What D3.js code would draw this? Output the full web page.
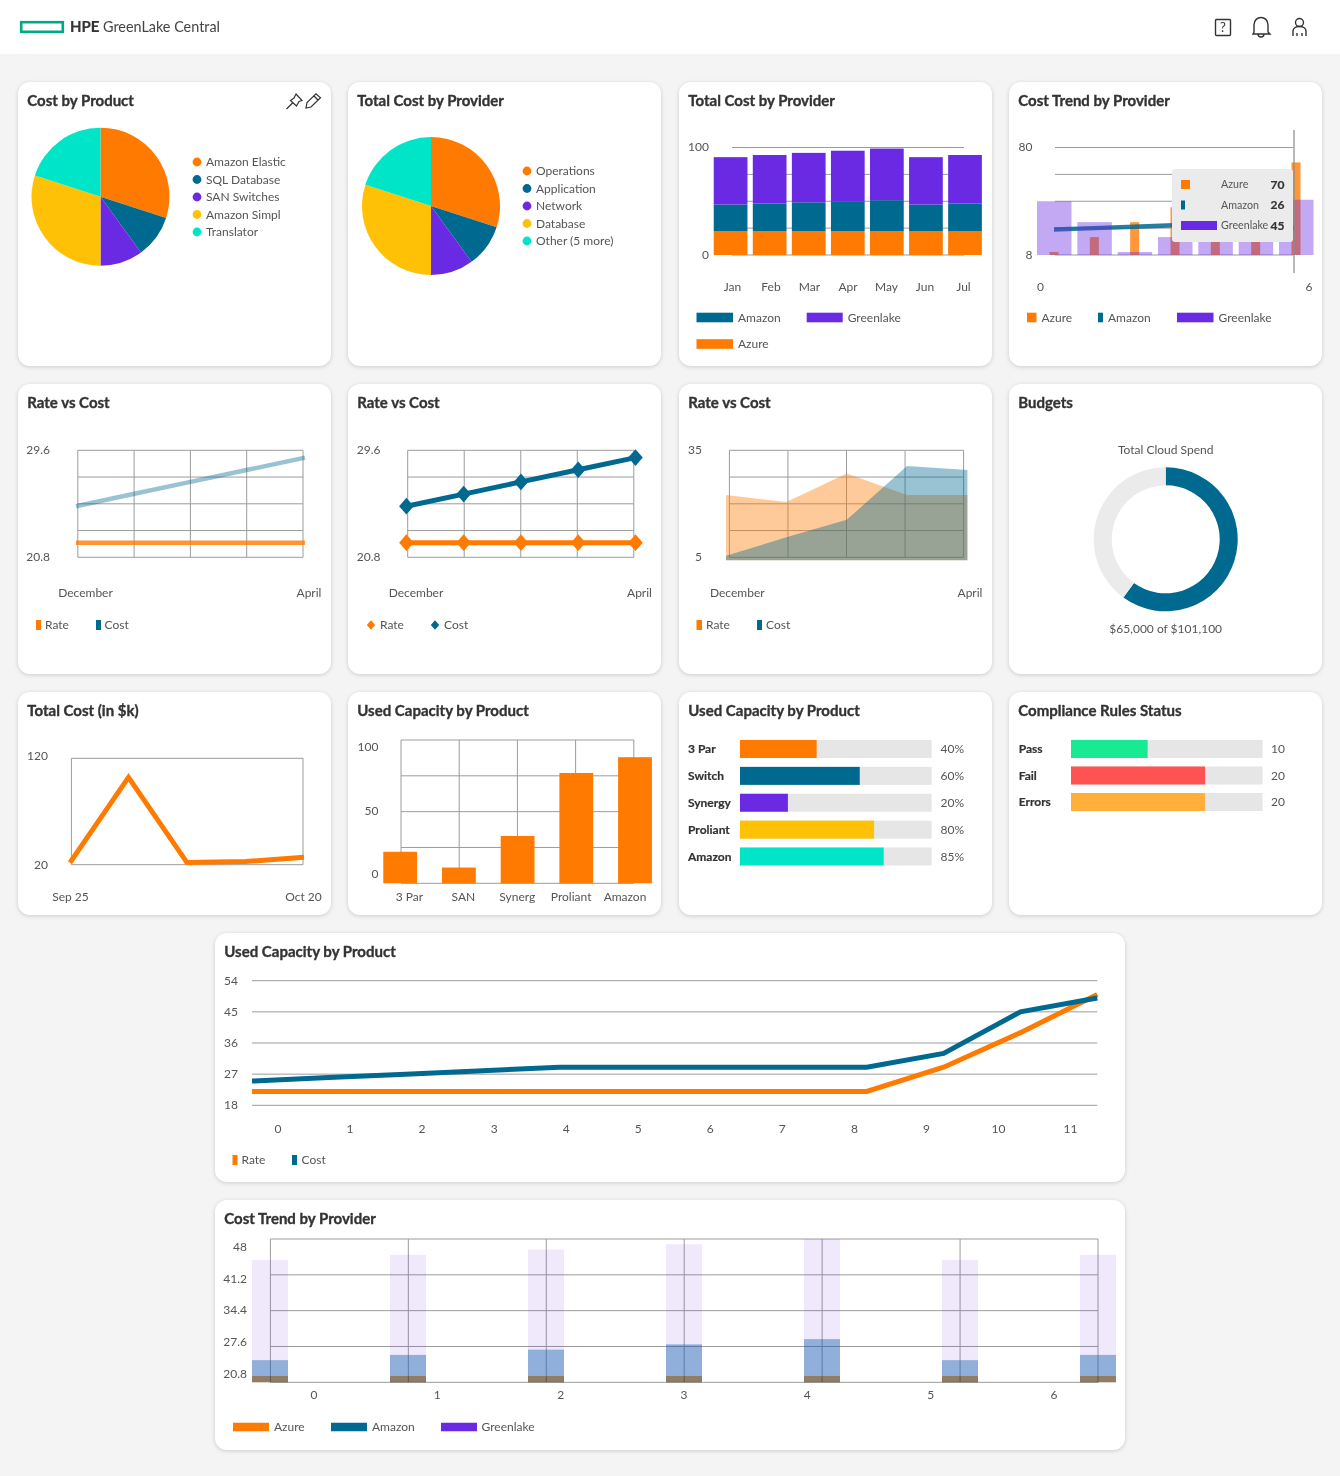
<!DOCTYPE html>
<html><head><meta charset="utf-8">
<script src="https://cdn.jsdelivr.net/npm/d3@7/dist/d3.min.js"></script>
<style>
html,body{margin:0;padding:0;background:#f4f4f4;}
svg{display:block;}
text{font-family:Lato,"Noto Sans",sans-serif;fill:#555;font-size:12px;}
.title{font-size:15px;font-weight:700;fill:#333;stroke:#333;stroke-width:.35px;}
.card{fill:#fff;filter:drop-shadow(0 1px 2px rgba(0,0,0,.16));}
.grid{stroke:#9c9c9c;stroke-width:1;fill:none;}
.axis text{font-size:12px;fill:#555;font-family:Lato,"Noto Sans",sans-serif;}
.axis path,.axis line{display:none;}
.bold{font-weight:700;fill:#333;stroke:#333;stroke-width:.2px;}
</style></head><body>
<svg id="c" width="1340" height="1476" viewBox="0 0 1340 1476"></svg>
<script>
// ---------- colours ----------
const ORANGE="#ff7a00", BLUE="#00698f", PURPLE="#6a29e3", YELLOW="#ffc105", TEAL="#00e5c8";
const pieColors=[ORANGE,BLUE,PURPLE,YELLOW,TEAL];
// ---------- data ----------
const pieValues=[30,10,10,30,20];
const pie1Labels=["Amazon Elastic","SQL Database","SAN Switches","Amazon Simpl","Translator"];
const pie2Labels=["Operations","Application","Network","Database","Other (5 more)"];
const months=["Jan","Feb","Mar","Apr","May","Jun","Jul"];
const azureStack=[22,22,22,22,22,22,22];
const amazonStack=[25,26,27,28,29,25,26];
const greenlakeStack=[44,45,46,47,48,44,45];
const trendIdx=[0,1,2,3,4,5,6];
const trendAzure=[10,20,30,40,50,60,70];
const trendAmazon=[25,26,27,28,29,25,26];
const trendGreenlake=[44,30,10,20,24,26,45];
const tipLabels=["Azure","Amazon","Greenlake"];
const tipValues=[70,26,45];
const rateCats=["December","January","February","March","April"];
const rateLine=[22,22,22,22,22];
const costLine=[25,26,27,28,29];
const rateArea=[22.5,20.5,28.5,22.5,22.5];
const costArea=[5.4,10.6,15.5,30.6,29.5];
const budgetValues=[60,40];
const totalCostCats=["Sep 25","Oct 1","Oct 7","Oct 14","Oct 20"];
const totalCost=[22,102,22,23,27];
const capCats=["3 Par","SAN","Synerg","Proliant","Amazon"];
const capValues=[22,11,33,77,88];
const hbarCats=["3 Par","Switch","Synergy","Proliant","Amazon"];
const hbarValues=[40,62.5,25,70,75];
const hbarLabels=["40%","60%","20%","80%","85%"];
const complianceCats=["Pass","Fail","Errors"];
const complianceValues=[40,70,70];
const complianceLabels=["10","20","20"];
const complianceColors=["#17ea92","#ff5252","#ffaf3a"];
const wideX=[0,1,2,3,4,5,6,7,8,9,10,11];
const wideRate=[22,22,22,22,22,22,22,22,22,29,39,50];
const wideCost=[25,26,27,28,29,29,29,29,29,33,45,49];
const bottomAzure=[22,22,22,22,22,22,22];
const bottomAmazon=[25,26,27,28,29,25,26];
const bottomGreenlake=[44,45,46,47,48,44,45];

const svg=d3.select("#c");
function T(x,y,s,o={}){const t=svg.append("text").attr("x",x).attr("y",y).attr("dy","0.35em").text(s);
  if(o.anchor)t.attr("text-anchor",o.anchor); if(o.cls)t.attr("class",o.cls); if(o.size)t.style("font-size",o.size+"px"); if(o.fill)t.style("fill",o.fill); return t;}
function card(x,y,w,h,title){svg.append("rect").attr("class","card").attr("x",x).attr("y",y).attr("width",w).attr("height",h).attr("rx",12);
  T(x+9.3,y+19,title,{cls:"title"});}
function hGrid(y,vals,x0,x1){svg.append("g").selectAll("line").data(vals).join("line").attr("class","grid").attr("x1",x0).attr("x2",x1).attr("y1",d=>y(d)).attr("y2",d=>y(d));}
function vGrid(xs,y0,y1){svg.append("g").selectAll("line").data(xs).join("line").attr("class","grid").attr("x1",d=>d).attr("x2",d=>d).attr("y1",y0).attr("y2",y1);}
function leftAxis(scale,vals,x){const g=svg.append("g").attr("class","axis").attr("transform",`translate(${x},0)`).call(d3.axisLeft(scale).offset(0).tickValues(vals).tickSize(0).tickPadding(0).tickFormat(d=>d));g.select(".domain").remove();}
function bottomAxis(scale,vals,y,fmt){const ax=d3.axisBottom(scale).offset(0).tickValues(vals).tickSize(0).tickPadding(0);if(fmt)ax.tickFormat(fmt);
  const g=svg.append("g").attr("class","axis").attr("transform",`translate(0,${y})`).call(ax);g.select(".domain").remove();g.selectAll("text").attr("dy","0.35em").attr("y",0);}
function swatch(x,y,w,h,c){svg.append("rect").attr("x",x).attr("y",y).attr("width",w).attr("height",h).attr("fill",c);}
function legend(items){items.forEach(i=>{swatch(i.x,i.y-i.h/2,i.w,i.h,i.c);T(i.x+i.w+i.gap,i.y,i.t);});}
function line(xs,y,vals,color,w,op=1){svg.append("path").datum(vals).attr("fill","none").attr("stroke",color).attr("stroke-width",w).attr("stroke-opacity",op)
  .attr("d",d3.line().x((d,i)=>xs(i)).y(d=>y(d)));}

// ---------- header ----------
svg.append("rect").attr("width",1340).attr("height",54).attr("fill","#fff");
svg.append("rect").attr("x",21.2).attr("y",22.2).attr("width",41.6).attr("height",9.6).attr("fill","none").attr("stroke","#01a982").attr("stroke-width",2.6);
T(70,27,"HPE",{size:15,fill:"#333",cls:"bold"}).style("fill","#333");
T(103,27,"GreenLake Central",{size:14.4,fill:"#444"});
const ic=svg.append("g").attr("fill","none").attr("stroke","#333").attr("stroke-width",1.4);
ic.append("rect").attr("x",1215.5).attr("y",19.5).attr("width",15).attr("height",16).attr("rx",1);
T(1223,27.5,"?",{anchor:"middle",size:13,fill:"#333"});
ic.append("path").attr("d","M1254 32 L1254 25 C1254 15 1268 15 1268 25 L1268 32 L1270 34 L1253 34 Z M1258 34 C1258 38 1264 38 1264 34");
ic.append("circle").attr("cx",1299.5).attr("cy",22.5).attr("r",4);
ic.append("path").attr("d","M1293 36 L1293 31 C1293 25 1306 25 1306 31 L1306 36 M1297 36 L1297 33 M1302 36 L1302 33");

// ---------- row 1 ----------
card(18,82,313,284,"Cost by Product");
card(348,82,313,284,"Total Cost by Provider");
card(679,82,313,284,"Total Cost by Provider");
card(1009,82,313,284,"Cost Trend by Provider");
const ic2=svg.append("g").attr("fill","none").attr("stroke","#333").attr("stroke-width",1.2);
ic2.append("path").attr("d","M296 94 L302 100.5 L299 101.5 L296.5 106 L290.5 100.5 L294 98 Z M292.5 103 L286.5 109");
ic2.append("path").attr("d","M306 108 L307 102.5 L316 93.8 L320.5 97.8 L311 107 Z M314 96 L318 100");
function pieChart(cx,cy,labels,lx,ly){
  const arcs=d3.pie().sort(null)(pieValues);
  svg.append("g").attr("transform",`translate(${cx},${cy})`).selectAll("path").data(arcs).join("path")
    .attr("d",d3.arc().innerRadius(0).outerRadius(69)).attr("fill",(d,i)=>pieColors[i]);
  const ys=d3.scalePoint().domain(labels).range([ly,ly+70]);
  labels.forEach((l,i)=>{svg.append("circle").attr("cx",lx).attr("cy",ys(l)).attr("r",4.4).attr("fill",pieColors[i]);T(lx+9,ys(l),l);});
}
pieChart(100.5,196.7,pie1Labels,197,162);
pieChart(431,206,pie2Labels,527,171);

// stacked
{const y=d3.scaleLinear().domain([0,100]).range([255,147.5]);
 hGrid(y,[0,25,50,75,100],732,964);
 const x=d3.scaleBand().domain(months).range([711,984.6]).paddingInner(.137).paddingOuter(.07);
 const keys=["azure","amazon","greenlake"], cols=[ORANGE,BLUE,PURPLE];
 const rows=months.map((m,i)=>({m,azure:azureStack[i],amazon:amazonStack[i],greenlake:greenlakeStack[i]}));
 const st=d3.stack().keys(keys)(rows);
 st.forEach((s,k)=>svg.append("g").selectAll("rect").data(s).join("rect").attr("x",d=>x(d.data.m)).attr("width",x.bandwidth())
   .attr("y",d=>y(d[1])).attr("height",d=>y(d[0])-y(d[1])).attr("fill",cols[k]));
 leftAxis(y,[0,100],709);
 bottomAxis(d3.scalePoint().domain(months).range([732.5,963.5]),months,286.5);
 legend([{x:696.5,y:317.5,w:36.5,h:9.6,c:BLUE,t:"Amazon",gap:5},{x:806.7,y:317.5,w:36,h:9.6,c:PURPLE,t:"Greenlake",gap:5},{x:696.5,y:344,w:36.5,h:9.6,c:ORANGE,t:"Azure",gap:5}]);
}
// cost trend with tooltip
{const y=d3.scaleLinear().domain([8,80]).range([255,147.5]);
 hGrid(y,[8,26,44,62,80],1055,1293);
 const xb=d3.scalePoint().domain(trendIdx).range([1054,1296]);
 const xl=d3.scalePoint().domain(trendIdx).range([1054,1294]);
 svg.append("g").selectAll("rect").data(trendAzure).join("rect").attr("x",(d,i)=>xb(i)-4.5).attr("width",9).attr("y",d=>y(d)).attr("height",d=>y(8)-y(d)).attr("fill",ORANGE).attr("fill-opacity",.78);
 line(i=>xl(i),y,trendAmazon,BLUE,4.5,.85);
 svg.append("g").selectAll("rect").data(trendGreenlake).join("rect").attr("x",(d,i)=>xb(i)-17).attr("width",34.5).attr("y",d=>y(d)).attr("height",d=>y(8)-y(d)).attr("fill",PURPLE).attr("fill-opacity",.4);
 svg.append("line").attr("x1",1294).attr("x2",1294).attr("y1",130).attr("y2",273).attr("stroke","#8a8a8a").attr("stroke-width",1.2);
 svg.append("rect").attr("x",1172).attr("y",169).attr("width",121).attr("height",73).attr("rx",3).attr("fill","#ebebeb");
 const ty=d3.scalePoint().domain(tipLabels).range([184.5,225.5]);
 const tw=[9,4,36], tc=[ORANGE,BLUE,PURPLE];
 tipLabels.forEach((l,i)=>{swatch(1181,ty(l)-4.5,tw[i],9,tc[i]);T(1221,ty(l),l,{size:10.7});T(1284.5,ty(l),tipValues[i],{anchor:"end",cls:"bold",size:12});});
 leftAxis(y,[8,80],1032.5);
 bottomAxis(d3.scalePoint().domain(trendIdx).range([1040.5,1309]),[0,6],286.5);
 legend([{x:1027,y:317.5,w:9.5,h:9.6,c:ORANGE,t:"Azure",gap:5},{x:1098,y:317.5,w:5,h:9.6,c:BLUE,t:"Amazon",gap:5},{x:1177,y:317.5,w:36.5,h:9.6,c:PURPLE,t:"Greenlake",gap:5}]);
}

// ---------- row 2 ----------
card(18,384,313,290,"Rate vs Cost");
card(348,384,313,290,"Rate vs Cost");
card(679,384,313,290,"Rate vs Cost");
card(1009,384,313,290,"Budgets");
const rIdx=d3.range(5);
{const y=d3.scaleLinear().domain([20.8,29.6]).range([557.3,450.3]);
 hGrid(y,[20.8,23,25.2,27.4,29.6],77.8,303);
 vGrid(rIdx.map(d3.scalePoint().domain(rIdx).range([77.8,303])),450.3,557.3);
 const x=d3.scalePoint().domain(rIdx).range([76,305]);
 line(x,y,costLine,BLUE,4.5,.4); line(x,y,rateLine,ORANGE,4.5,.8);
 leftAxis(y,[20.8,29.6],50);
 bottomAxis(d3.scalePoint().domain(rateCats).range([85.5,309]),["December","April"],593);
 legend([{x:36,y:625,w:5,h:10,c:ORANGE,t:"Rate",gap:4},{x:96,y:625,w:5,h:10,c:BLUE,t:"Cost",gap:3.5}]);
}
{const y=d3.scaleLinear().domain([20.8,29.6]).range([557.3,450.3]);
 hGrid(y,[20.8,23,25.2,27.4,29.6],407.7,633.8);
 const gx=d3.scalePoint().domain(rIdx).range([407.7,633.8]);
 vGrid(rIdx.map(gx),450.3,557.3);
 const x=d3.scalePoint().domain(rIdx).range([406.4,635.5]);
 line(x,y,rateLine,ORANGE,5); line(x,y,costLine,BLUE,5);
 const sym=d3.symbol(d3.symbolDiamond2,135);
 [[rateLine,ORANGE],[costLine,BLUE]].forEach(([v,c])=>svg.append("g").selectAll("path").data(v).join("path").attr("d",sym).attr("fill",c)
   .attr("transform",(d,i)=>`translate(${x(i)},${y(d)}) scale(1,1.15)`));
 leftAxis(y,[20.8,29.6],380.5);
 bottomAxis(d3.scalePoint().domain(rateCats).range([416,639.5]),["December","April"],593);
 const sm=d3.symbol(d3.symbolDiamond2,45);
 svg.append("path").attr("d",sm).attr("fill",ORANGE).attr("transform","translate(371,625) scale(1,1.15)");T(380,625,"Rate");
 svg.append("path").attr("d",sm).attr("fill",BLUE).attr("transform","translate(435,625) scale(1,1.15)");T(444,625,"Cost");
}
{const y=d3.scaleLinear().domain([5,35]).range([557.3,450.3]);
 hGrid(y,[5,12.5,20,27.5,35],729.4,963.6);
 vGrid(rIdx.map(d3.scalePoint().domain(rIdx).range([729.4,963.6])),450.3,557.3);
 const x=d3.scalePoint().domain(rIdx).range([726,967.4]);
 const area=d3.area().x((d,i)=>x(i)).y0(y(4.16)).y1(d=>y(d));
 svg.append("path").datum(rateArea).attr("d",area).attr("fill",ORANGE).attr("fill-opacity",.4);
 svg.append("path").datum(costArea).attr("d",area).attr("fill",BLUE).attr("fill-opacity",.4);
 leftAxis(y,[5,35],702);
 bottomAxis(d3.scalePoint().domain(rateCats).range([737.3,970]),["December","April"],593);
 legend([{x:696.5,y:625,w:5.5,h:10,c:ORANGE,t:"Rate",gap:4},{x:757,y:625,w:5,h:10,c:BLUE,t:"Cost",gap:4}]);
}
{const arcs=d3.pie().sort(null)(budgetValues);
 svg.append("g").attr("transform","translate(1165.7,539.3)").selectAll("path").data(arcs).join("path")
   .attr("d",d3.arc().innerRadius(54).outerRadius(72)).attr("fill",(d,i)=>i?"#ebebeb":BLUE);
 T(1165.7,450,"Total Cloud Spend",{anchor:"middle"});
 T(1165.7,629,"$65,000 of $101,100",{anchor:"middle"});
}

// ---------- row 3 ----------
card(18,692,313,223,"Total Cost (in $k)");
card(348,692,313,223,"Used Capacity by Product");
card(679,692,313,223,"Used Capacity by Product");
card(1009,692,313,223,"Compliance Rules Status");
{const y=d3.scaleLinear().domain([20,120]).range([864.7,758.3]);
 hGrid(y,[20,120],71.4,303); vGrid([71.4,303],758.3,864.7);
 const x=d3.scalePoint().domain(d3.range(5)).range([70,304]);
 line(x,y,totalCost,ORANGE,5);
 leftAxis(d3.scaleLinear().domain([20,120]).range([865,756.5]),[20,120],48);
 bottomAxis(d3.scalePoint().domain(totalCostCats).range([70.5,303.5]),["Sep 25","Oct 20"],896.5);
}
{const y=d3.scaleLinear().domain([0,100]).range([883.3,740]);
 hGrid(y,[0,25,50,75,100],401,633.8);
 vGrid(d3.range(5).map(d3.scalePoint().domain(d3.range(5)).range([401,633.8])),740,883.3);
 const x=d3.scalePoint().domain(capCats).range([400.2,635]);
 svg.append("g").selectAll("rect").data(capValues).join("rect").attr("x",(d,i)=>x(capCats[i])-16.9).attr("width",33.8).attr("y",d=>y(d)).attr("height",d=>y(0)-y(d)).attr("fill",ORANGE);
 leftAxis(d3.scaleLinear().domain([0,100]).range([874,747.5]),[0,50,100],378.5);
 bottomAxis(d3.scalePoint().domain(capCats).range([409.5,625]),capCats,896.5);
}
function hbars(cats,vals,labs,cols,x0,lx,vx,y0,y1){
  const x=d3.scaleLinear().domain([0,100]).range([x0,x0+191.6]);
  const y=d3.scalePoint().domain(cats).range([y0,y1]);
  cats.forEach((c,i)=>{
    svg.append("rect").attr("x",x(0)).attr("y",y(c)-9).attr("width",x(100)-x(0)).attr("height",18).attr("fill","#e6e6e6");
    svg.append("rect").attr("x",x(0)).attr("y",y(c)-9).attr("width",x(vals[i])-x(0)).attr("height",18).attr("fill",cols[i]);
    T(lx,y(c),c,{cls:"bold"});
    T(vx,y(c),labs[i]);
  });
}
hbars(hbarCats,hbarValues,hbarLabels,pieColors,740,688,940.5,749,856.5);
hbars(complianceCats,complianceValues,complianceLabels,complianceColors,1071,1018.7,1271,749,802);

// ---------- wide line chart ----------
card(215,933,910,249,"Used Capacity by Product");
{const y=d3.scaleLinear().domain([18,54]).range([1105.3,980.7]);
 hGrid(y,[18,27,36,45,54],252,1097.3);
 const x=d3.scalePoint().domain(wideX).range([252,1097.3]);
 line(x,y,wideRate,ORANGE,5); line(x,y,wideCost,BLUE,5);
 leftAxis(y,[18,27,36,45,54],238);
 bottomAxis(d3.scalePoint().domain(wideX).range([278,1070.5]),wideX,1129);
 legend([{x:232.5,y:1160,w:5,h:10,c:ORANGE,t:"Rate",gap:4},{x:292,y:1160,w:5,h:10,c:BLUE,t:"Cost",gap:4.5}]);
}
// ---------- wide bars ----------
card(215,1200,910,250,"Cost Trend by Provider");
{const ticks=[20.8,27.6,34.4,41.2,48];
 const y=d3.scaleLinear().domain([20.8,48]).range([1382.3,1239]);
 hGrid(y,ticks,270.4,1098);
 vGrid(d3.range(7).map(d3.scalePoint().domain(d3.range(7)).range([270.4,1098])),1239,1382.3);
 const x=d3.scalePoint().domain(trendIdx).range([270,1098]);
 const b=(vals,c,op)=>svg.append("g").selectAll("rect").data(vals).join("rect").attr("x",(d,i)=>x(i)-18).attr("width",36).attr("y",d=>y(d)).attr("height",d=>y(20.8)-y(d)).attr("fill",c).attr("fill-opacity",op);
 b(bottomGreenlake,PURPLE,.1);
 b(bottomAmazon,"#0d60ad",.42);
 b(bottomAzure,ORANGE,.55).style("mix-blend-mode","multiply");
 leftAxis(d3.scaleLinear().domain([20.8,48]).range([1373.7,1247.3]),ticks,247);
 bottomAxis(d3.scalePoint().domain(trendIdx).range([314,1054]),trendIdx,1395);
 legend([{x:233,y:1427,w:36,h:8.5,c:ORANGE,t:"Azure",gap:5},{x:331,y:1427,w:36,h:8.5,c:BLUE,t:"Amazon",gap:5},{x:441,y:1427,w:36,h:8.5,c:PURPLE,t:"Greenlake",gap:4.5}]);
}
</script>
</body></html>
